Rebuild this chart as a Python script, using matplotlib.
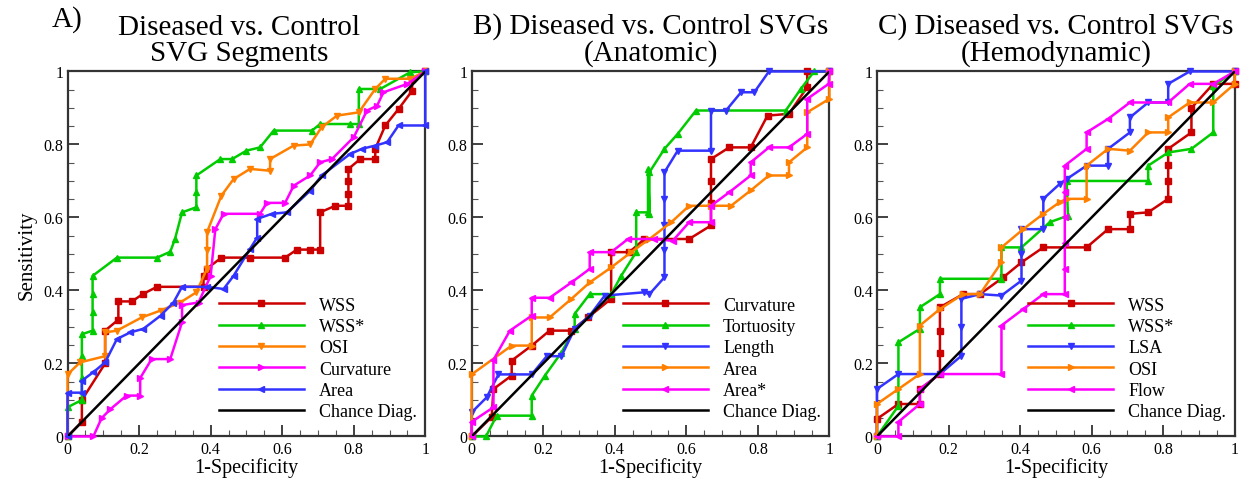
import numpy as np
import matplotlib
matplotlib.use("Agg")
import matplotlib.pyplot as plt
from matplotlib.ticker import MultipleLocator

plt.rcParams['font.family'] = ['Liberation Serif', 'DejaVu Serif']

# colours
RED = '#cc0000'
GREEN = '#00cc00'
ORANGE = '#ff8000'
MAGENTA = '#ff00ff'
BLUE = '#3333ff'

# ---- Panel A: Diseased vs. Control SVG Segments ----
a_wss_x = [0, 0.04, 0.04, 0.105, 0.105, 0.142, 0.142, 0.18, 0.21, 0.25, 0.38, 0.38, 0.39, 0.43, 0.51,
           0.608, 0.641, 0.678, 0.706, 0.706, 0.748, 0.785, 0.785, 0.785, 0.785, 0.818, 0.86, 0.86, 0.888, 0.925,
           0.963, 0.963, 1]
a_wss_y = [0, 0.04, 0.1, 0.2, 0.29, 0.32, 0.37, 0.37, 0.39, 0.41, 0.41, 0.44, 0.46, 0.49, 0.49,
           0.49, 0.512, 0.512, 0.512, 0.614, 0.632, 0.632, 0.665, 0.70, 0.733, 0.76, 0.76, 0.788, 0.852, 0.897,
           0.947, 0.98, 1]
a_wssstar_x = [0, 0, 0.04, 0.04, 0.04, 0.04, 0.07, 0.07, 0.07, 0.07, 0.138, 0.25, 0.287, 0.30, 0.32, 0.36, 0.36,
               0.36, 0.427, 0.46, 0.50, 0.538, 0.576, 0.683, 0.706, 0.79, 0.814, 0.814, 0.874, 0.958, 1]
a_wssstar_y = [0, 0.08, 0.1, 0.16, 0.22, 0.28, 0.29, 0.34, 0.39, 0.44, 0.49, 0.49, 0.506, 0.54, 0.614, 0.628, 0.67,
               0.715, 0.76, 0.76, 0.783, 0.792, 0.838, 0.838, 0.856, 0.856, 0.856, 0.952, 0.952, 0.998, 1]
a_osi_x = [0, 0, 0.035, 0.105, 0.105, 0.138, 0.207, 0.26, 0.315, 0.36, 0.39, 0.39, 0.39, 0.43, 0.464, 0.51,
           0.566, 0.566, 0.632, 0.678, 0.71, 0.753, 0.814, 0.86, 0.888, 0.958, 1]
a_osi_y = [0, 0.17, 0.203, 0.22, 0.285, 0.29, 0.326, 0.345, 0.367, 0.395, 0.46, 0.51, 0.56, 0.66, 0.705, 0.733,
           0.728, 0.76, 0.797, 0.8, 0.847, 0.879, 0.888, 0.952, 0.98, 0.98, 1]
a_curv_x = [0, 0.072, 0.095, 0.12, 0.165, 0.203, 0.203, 0.235, 0.287, 0.32, 0.32, 0.366, 0.40, 0.413, 0.436, 0.538,
            0.557, 0.608, 0.632, 0.678, 0.706, 0.739, 0.80, 0.837, 0.865, 0.883, 0.95, 1]
a_curv_y = [0, 0, 0.05, 0.075, 0.112, 0.112, 0.16, 0.212, 0.212, 0.313, 0.36, 0.367, 0.44, 0.568, 0.61, 0.61,
            0.64, 0.64, 0.687, 0.715, 0.751, 0.76, 0.82, 0.893, 0.906, 0.943, 0.966, 1]
a_area_x = [0, 0, 0.04, 0.04, 0.072, 0.105, 0.138, 0.175, 0.212, 0.26, 0.296, 0.32, 0.39, 0.436, 0.464, 0.51,
            0.53, 0.53, 0.571, 0.613, 0.678, 0.71, 0.79, 0.823, 0.86, 0.893, 0.925, 1, 1]
a_area_y = [0, 0.12, 0.12, 0.153, 0.176, 0.203, 0.267, 0.285, 0.295, 0.331, 0.367, 0.41, 0.41, 0.404, 0.44, 0.514,
            0.545, 0.596, 0.61, 0.614, 0.673, 0.715, 0.774, 0.788, 0.797, 0.806, 0.852, 0.852, 1]

# ---- Panel B: Diseased vs. Control SVGs (Anatomic) ----
b_curv_x = [0, 0.056, 0.061, 0.112, 0.112, 0.168, 0.218, 0.279, 0.325, 0.39, 0.39, 0.441, 0.483,
            0.608, 0.669, 0.669, 0.669, 0.669, 0.72, 0.78, 0.827, 0.887, 0.938, 0.938, 1]
b_curv_y = [0, 0.053, 0.13, 0.167, 0.208, 0.249, 0.29, 0.29, 0.326, 0.377, 0.505, 0.505, 0.541,
            0.541, 0.578, 0.64, 0.70, 0.76, 0.792, 0.792, 0.879, 0.884, 0.957, 1.0, 1]
b_tort_x = [0, 0.04, 0.07, 0.168, 0.168, 0.205, 0.251, 0.288, 0.288, 0.33, 0.39, 0.418, 0.46, 0.46, 0.493, 0.493,
            0.497, 0.497, 0.539, 0.576, 0.627, 0.878, 0.92, 0.957, 1]
b_tort_y = [0, 0, 0.057, 0.057, 0.112, 0.167, 0.23, 0.295, 0.336, 0.39, 0.39, 0.44, 0.505, 0.614, 0.614, 0.733,
            0.61, 0.724, 0.788, 0.829, 0.893, 0.893, 0.952, 1.0, 1]
b_len_x = [0, 0, 0.042, 0.075, 0.168, 0.21, 0.251, 0.288, 0.33, 0.372, 0.483, 0.497, 0.539, 0.539, 0.539, 0.539,
           0.539, 0.576, 0.669, 0.669, 0.711, 0.753, 0.79, 0.831, 1]
b_len_y = [0, 0.066, 0.107, 0.17, 0.17, 0.22, 0.22, 0.295, 0.331, 0.386, 0.395, 0.39, 0.436, 0.51, 0.58, 0.65,
           0.724, 0.783, 0.783, 0.893, 0.893, 0.943, 0.943, 1.0, 1]
b_area_x = [0, 0, 0.112, 0.168, 0.168, 0.218, 0.279, 0.33, 0.39, 0.446, 0.497, 0.558, 0.608, 0.669, 0.725,
            0.78, 0.831, 0.887, 0.887, 0.938, 0.938, 1, 1]
b_area_y = [0, 0.17, 0.249, 0.249, 0.326, 0.326, 0.377, 0.422, 0.463, 0.505, 0.541, 0.587, 0.632, 0.632, 0.632,
            0.674, 0.715, 0.715, 0.751, 0.792, 0.888, 0.925, 1]
b_areastar_x = [0, 0, 0.061, 0.061, 0.107, 0.168, 0.168, 0.218, 0.279, 0.33, 0.33, 0.39, 0.437, 0.511, 0.562,
                0.608, 0.669, 0.669, 0.72, 0.78, 0.78, 0.831, 0.887, 0.938, 0.938, 0.998, 1]
b_areastar_y = [0, 0.04, 0.08, 0.21, 0.29, 0.331, 0.38, 0.38, 0.422, 0.459, 0.505, 0.505, 0.541, 0.541, 0.536,
                0.587, 0.587, 0.632, 0.669, 0.715, 0.751, 0.792, 0.792, 0.829, 0.925, 0.966, 1]

# ---- Panel C: Diseased vs. Control SVGs (Hemodynamic) ----
c_wss_x = [0, 0, 0.06, 0.12, 0.12, 0.176, 0.176, 0.176, 0.176, 0.241, 0.288, 0.353, 0.404, 0.465, 0.586, 0.646,
           0.707, 0.707, 0.758, 0.814, 0.814, 0.814, 0.814, 0.879, 0.879, 0.94, 1, 1]
c_wss_y = [0, 0.048, 0.089, 0.089, 0.13, 0.171, 0.23, 0.29, 0.354, 0.39, 0.39, 0.436, 0.477, 0.518, 0.518, 0.568,
           0.568, 0.61, 0.614, 0.651, 0.70, 0.745, 0.788, 0.833, 0.9, 0.966, 0.966, 1]
c_wssstar_x = [0, 0.06, 0.06, 0.12, 0.12, 0.176, 0.176, 0.348, 0.348, 0.404, 0.483, 0.534, 0.53, 0.758, 0.758,
               0.814, 0.879, 0.94, 0.94, 1]
c_wssstar_y = [0, 0.084, 0.258, 0.295, 0.354, 0.39, 0.432, 0.432, 0.518, 0.518, 0.587, 0.605, 0.70, 0.70, 0.742,
               0.778, 0.788, 0.833, 0.96, 1]
c_lsa_x = [0, 0, 0.06, 0.176, 0.236, 0.236, 0.236, 0.288, 0.348, 0.404, 0.404, 0.404, 0.465, 0.465, 0.511, 0.53,
           0.586, 0.646, 0.646, 0.707, 0.707, 0.758, 0.814, 0.814, 0.874, 1]
c_lsa_y = [0, 0.13, 0.171, 0.171, 0.221, 0.30, 0.377, 0.39, 0.386, 0.427, 0.50, 0.568, 0.568, 0.651, 0.692, 0.705,
           0.742, 0.742, 0.788, 0.833, 0.874, 0.915, 0.915, 0.966, 1.0, 1]
c_osi_x = [0, 0, 0.06, 0.12, 0.12, 0.176, 0.241, 0.288, 0.348, 0.348, 0.409, 0.465, 0.511, 0.53, 0.586, 0.586,
           0.646, 0.707, 0.758, 0.814, 0.814, 0.874, 0.94, 1, 1]
c_osi_y = [0, 0.089, 0.13, 0.171, 0.304, 0.349, 0.39, 0.39, 0.477, 0.518, 0.568, 0.61, 0.642, 0.651, 0.651, 0.742,
           0.788, 0.783, 0.833, 0.833, 0.874, 0.915, 0.915, 0.966, 1]
c_flow_x = [0, 0.06, 0.06, 0.12, 0.12, 0.176, 0.348, 0.348, 0.409, 0.465, 0.525, 0.525, 0.525, 0.525, 0.525,
            0.525, 0.586, 0.586, 0.646, 0.707, 0.814, 0.874, 0.94, 1]
c_flow_y = [0, 0, 0.04, 0.089, 0.13, 0.171, 0.171, 0.304, 0.349, 0.39, 0.39, 0.46, 0.53, 0.60, 0.67,
            0.742, 0.788, 0.833, 0.87, 0.915, 0.915, 0.966, 0.966, 1]

panels = [
    dict(ax_left=0.054, title='Diseased vs. Control\nSVG Segments', letter='A)', title_x=0.48,
         series=[('WSS', a_wss_x, a_wss_y, RED, 's'),
                 ('WSS*', a_wssstar_x, a_wssstar_y, GREEN, '^'),
                 ('OSI', a_osi_x, a_osi_y, ORANGE, 'v'),
                 ('Curvature', a_curv_x, a_curv_y, MAGENTA, '>'),
                 ('Area', a_area_x, a_area_y, BLUE, '<')]),
    dict(ax_left=0.377, title='B) Diseased vs. Control SVGs\n(Anatomic)', letter=None, title_x=0.5,
         series=[('Curvature', b_curv_x, b_curv_y, RED, 's'),
                 ('Tortuosity', b_tort_x, b_tort_y, GREEN, '^'),
                 ('Length', b_len_x, b_len_y, BLUE, 'v'),
                 ('Area', b_area_x, b_area_y, ORANGE, '>'),
                 ('Area*', b_areastar_x, b_areastar_y, MAGENTA, '<')]),
    dict(ax_left=0.701, title='C) Diseased vs. Control SVGs\n(Hemodynamic)', letter=None, title_x=0.5,
         series=[('WSS', c_wss_x, c_wss_y, RED, 's'),
                 ('WSS*', c_wssstar_x, c_wssstar_y, GREEN, '^'),
                 ('LSA', c_lsa_x, c_lsa_y, BLUE, 'v'),
                 ('OSI', c_osi_x, c_osi_y, ORANGE, '>'),
                 ('Flow', c_flow_x, c_flow_y, MAGENTA, '<')]),
]

fig = plt.figure(figsize=(12.51, 4.85), dpi=100)

for i, p in enumerate(panels):
    ax = fig.add_axes([p['ax_left'], 0.098, 0.286, 0.7526])
    for label, xs, ys, col, mk in p['series']:
        ax.plot(xs, ys, color=col, marker=mk, markersize=5, lw=1.8, label=label, clip_on=False, zorder=3)
    ax.plot([0, 1], [0, 1], color='k', lw=1.8, label='Chance Diag.', zorder=4)
    ax.set_xlim(0, 1)
    ax.set_ylim(0, 1)
    ax.xaxis.set_major_locator(MultipleLocator(0.2))
    ax.yaxis.set_major_locator(MultipleLocator(0.2))
    ax.xaxis.set_minor_locator(MultipleLocator(0.05))
    ax.yaxis.set_minor_locator(MultipleLocator(0.05))
    ax.xaxis.set_major_formatter(lambda v, pos: '%g' % round(v, 2))
    ax.yaxis.set_major_formatter(lambda v, pos: '%g' % round(v, 2))
    ax.tick_params(which='major', direction='in', length=8, width=1.3, labelsize=11.5, pad=3, color='#333333')
    ax.tick_params(which='minor', direction='in', length=4, width=0.8, color='#555555')
    for s in ax.spines.values():
        s.set_linewidth(1.6)
        s.set_color('#333333')
    ax.set_xlabel('1-Specificity', fontsize=14.5, labelpad=0)
    if i == 0:
        ax.set_ylabel('Sensitivity', fontsize=15, labelpad=5)
    ax.text(p['title_x'], 1.015, p['title'], transform=ax.transAxes, fontsize=21,
            ha='center', va='bottom', linespacing=1.0)
    if p['letter']:
        ax.text(-0.045, 1.145, p['letter'], transform=ax.transAxes, fontsize=21,
                ha='left', va='center')
    ax.legend(loc='lower right', bbox_to_anchor=(1.022, 0.0), frameon=False, fontsize=13,
              handlelength=4.7, numpoints=1, labelspacing=0.24, borderaxespad=0.5,
              handletextpad=0.85, borderpad=0.4, markerscale=1.0)

fig.savefig('out.png', dpi=100)
